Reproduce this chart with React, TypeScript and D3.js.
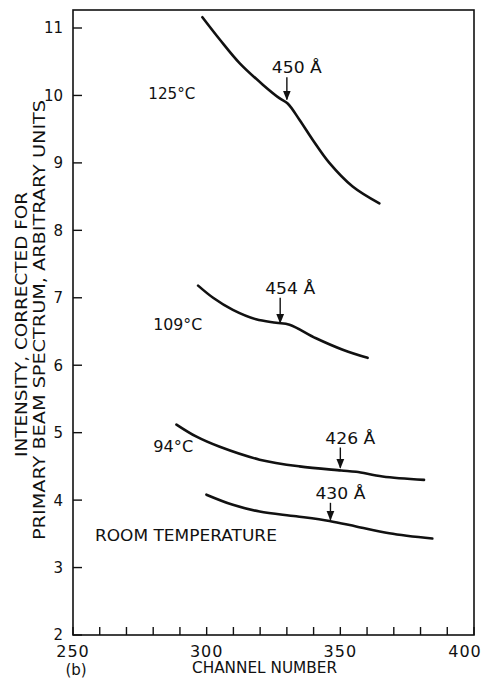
import React from "react";
import * as d3 from "d3";

// ---- data (channel number, intensity) ----
const curve125: [number, number][] = [
  [298.4, 11.16], [304.9, 10.83], [312.3, 10.48], [321.0, 10.16], [327.2, 9.96],
  [330.3, 9.88], [334.7, 9.64], [339.7, 9.34], [345.9, 9.0], [354.6, 8.65], [364.6, 8.4],
];
const curve109: [number, number][] = [
  [296.8, 7.18], [302.4, 7.0], [309.8, 6.82], [318.5, 6.68], [326.0, 6.63],
  [331.0, 6.6], [340.9, 6.4], [350.9, 6.23], [360.2, 6.11],
];
const curve94: [number, number][] = [
  [288.7, 5.12], [296.2, 4.94], [304.9, 4.79], [319.8, 4.6], [334.7, 4.5],
  [350.3, 4.44], [355.9, 4.42], [365.8, 4.35], [381.3, 4.3],
];
const curveRoom: [number, number][] = [
  [299.9, 4.08], [309.8, 3.93], [319.8, 3.83], [333.5, 3.76], [345.9, 3.69],
  [355.9, 3.61], [368.3, 3.51], [384.4, 3.43],
];
const allCurves = [curve125, curve109, curve94, curveRoom];

// curve labels: text, channel (left edge), intensity (baseline)
const curveLabels = ["125°C", "109°C", "94°C", "ROOM TEMPERATURE"];
const curveLabelChannel = [278.2, 280, 280, 258.2];
const curveLabelValue = [9.95, 6.52, 4.72, 3.39];
const curveLabelLength = [47, 49, 40, 182];

// thickness annotations: label, channel of arrow, intensity at arrow tip, arrow length (intensity units)
const annoLabels = ["450 Å", "454 Å", "426 Å", "430 Å"];
const annoChannel = [330.0, 327.5, 350.0, 346.3];
const annoTip = [9.94, 6.63, 4.48, 3.71];
const annoLen = [0.33, 0.37, 0.3, 0.25];

const xTicks = d3.range(250, 401, 10);
const xTickLabels = [250, 300, 350, 400];
const yTicks = d3.range(2, 12, 1);

const W = 485;
const H = 679;
const FONT = "'DejaVu Sans', sans-serif";

export default function App() {
  const x = d3.scaleLinear().domain([250, 400]).range([73, 474]);
  const y = d3.scaleLinear().domain([2, 11]).range([635, 28]);
  const top = 10;
  const line = d3
    .line<[number, number]>()
    .x((d) => x(d[0]))
    .y((d) => y(d[1]))
    .curve(d3.curveCatmullRom.alpha(0.5));

  return (
    <svg
      width={W}
      height={H}
      style={{ position: "absolute", left: 0, top: 0, background: "#fff" }}
      fontFamily={FONT}
    >
      <defs>
        <marker id="ah" viewBox="0 0 10 10" refX="9" refY="5" markerWidth="7" markerHeight="8" orient="auto">
          <path d="M0,1 L10,5 L0,9 Z" fill="#111" />
        </marker>
      </defs>
      {/* frame */}
      <rect x={x(250)} y={top} width={x(400) - x(250)} height={y(2) - top} fill="none" stroke="#111" strokeWidth={1.6} />
      {/* x ticks */}
      {xTicks.map((t) => (
        <line key={"xt" + t} x1={x(t)} x2={x(t)} y1={y(2)} y2={y(2) - 8} stroke="#111" strokeWidth={1.4} />
      ))}
      {xTickLabels.map((t, i) => (
        <text
          key={"xl" + t}
          x={x(t) + (i === xTickLabels.length - 1 ? -9 : 0)}
          y={y(2) + 22}
          textAnchor="middle"
          fontSize={16}
          letterSpacing={1}
          fill="#111"
        >
          {t}
        </text>
      ))}
      {/* y ticks */}
      {yTicks.map((t) => (
        <line key={"yt" + t} x1={x(250)} x2={x(250) + 9} y1={y(t)} y2={y(t)} stroke="#111" strokeWidth={1.4} />
      ))}
      {yTicks.map((t) => (
        <text key={"yl" + t} x={63} y={y(t)} dy="0.36em" textAnchor="end" fontSize={15} fill="#111">
          {t}
        </text>
      ))}
      {/* axis titles */}
      <text x={192} y={673} fontSize={15} textLength={145} lengthAdjust="spacingAndGlyphs" fill="#111">
        CHANNEL NUMBER
      </text>
      <text x={76} y={675} fontSize={15} textAnchor="middle" fill="#111">
        (b)
      </text>
      <text
        transform="translate(27,324.5) rotate(-90)"
        textAnchor="middle"
        fontSize={16}
        textLength={265}
        lengthAdjust="spacingAndGlyphs"
        fill="#111"
      >
        INTENSITY, CORRECTED FOR
      </text>
      <text
        transform="translate(45,320) rotate(-90)"
        textAnchor="middle"
        fontSize={16}
        textLength={440}
        lengthAdjust="spacingAndGlyphs"
        fill="#111"
      >
        PRIMARY BEAM SPECTRUM, ARBITRARY UNITS
      </text>
      {/* curves */}
      {allCurves.map((c, i) => (
        <path key={"c" + i} d={line(c) || ""} fill="none" stroke="#111" strokeWidth={2.6} strokeLinecap="round" />
      ))}
      {curveLabels.map((l, i) => (
        <text
          key={"cl" + i}
          x={x(curveLabelChannel[i])}
          y={y(curveLabelValue[i])}
          fontSize={15}
          textLength={curveLabelLength[i]}
          lengthAdjust="spacingAndGlyphs"
          fill="#111"
        >
          {l}
        </text>
      ))}
      {/* annotations */}
      {annoLabels.map((l, i) => {
        const ax = x(annoChannel[i]);
        const tipY = y(annoTip[i]);
        const topY = y(annoTip[i] + annoLen[i]);
        return (
          <g key={"an" + i}>
            <line x1={ax} x2={ax} y1={topY} y2={tipY} stroke="#111" strokeWidth={1.4} markerEnd="url(#ah)" />
            <text x={ax - 15} y={topY - 4} fontSize={15} textLength={50} lengthAdjust="spacingAndGlyphs" fill="#111">
              {l}
            </text>
          </g>
        );
      })}
    </svg>
  );
}
